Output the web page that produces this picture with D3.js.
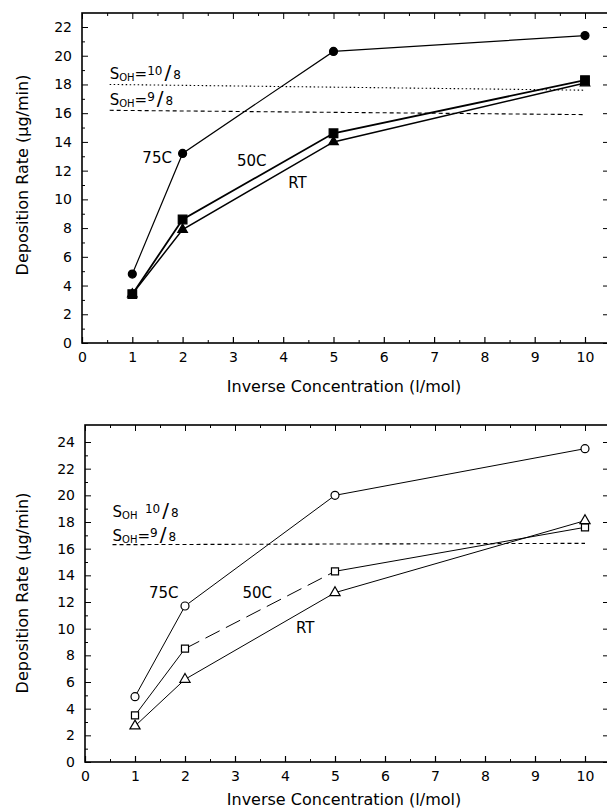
<!DOCTYPE html>
<html>
<head>
<meta charset="utf-8">
<script src="https://cdn.jsdelivr.net/npm/d3@7"></script>
<style>
  body { margin: 0; background: #fff; }
  svg { display: block; font-family: "DejaVu Sans", "Liberation Sans", sans-serif; }
</style>
</head>
<body>
<div id="chart"></div>
<script>
// values
const conc = [1, 2, 5, 10];
const xTicks = [0, 1, 2, 3, 4, 5, 6, 7, 8, 9, 10];
const topYTicks = [0, 2, 4, 6, 8, 10, 12, 14, 16, 18, 20, 22];
const botYTicks = [0, 2, 4, 6, 8, 10, 12, 14, 16, 18, 20, 22, 24];

const top75 = [4.8, 13.2, 20.3, 21.4];
const top50 = [3.4, 8.6, 14.6, 18.3];
const topRT = [3.4, 7.9, 14.0, 18.1];

const bot75 = [4.9, 11.7, 20.0, 23.5];
const bot50 = [3.5, 8.5, 14.3, 17.6];
const botRT = [2.7, 6.2, 12.7, 18.1];

const refX = [0.55, 10];
const top108 = [18.0, 17.6];
const top98 = [16.2, 15.9];
const bot98 = [16.3, 16.4];

const W = 607, H = 812;

const svg = d3.select("#chart")
  .append("svg")
  .attr("width", W)
  .attr("height", H);

function panel(cfg) {
  const x = d3.scaleLinear().domain([0, 10]).range([cfg.left, 585]);
  const y = d3.scaleLinear().domain([0, cfg.yTop]).range([cfg.bottom, cfg.yTopPx]);
  const g = svg.append("g");

  // frame
  g.append("rect")
    .attr("x", cfg.left).attr("y", cfg.top)
    .attr("width", 609 - cfg.left).attr("height", cfg.bottom - cfg.top)
    .attr("fill", "none").attr("stroke", "#000").attr("stroke-width", 1.6);

  // bottom axis, inward ticks
  const xb = g.append("g")
    .attr("transform", `translate(0,${cfg.bottom})`)
    .call(d3.axisBottom(x).tickValues(xTicks).tickSizeInner(-6).tickSizeOuter(0).tickPadding(9));
  xb.select(".domain").remove();
  xb.selectAll("text").style("font-size", "14px").style("font-family", "DejaVu Sans");
  xb.selectAll("line").attr("stroke-width", 1.2);

  const minor = d3.range(0.5, 10.5, 1);
  g.append("g")
    .attr("transform", `translate(0,${cfg.bottom})`)
    .call(d3.axisBottom(x).tickValues(minor).tickSizeInner(-3).tickSizeOuter(0).tickFormat(""))
    .select(".domain").remove();

  // top axis ticks
  const xt = g.append("g")
    .attr("transform", `translate(0,${cfg.top})`)
    .call(d3.axisTop(x).tickValues(xTicks).tickSizeInner(-6).tickSizeOuter(0).tickFormat(""));
  xt.select(".domain").remove();
  g.append("g")
    .attr("transform", `translate(0,${cfg.top})`)
    .call(d3.axisTop(x).tickValues(minor).tickSizeInner(-3).tickSizeOuter(0).tickFormat(""))
    .select(".domain").remove();

  // left axis
  const yl = g.append("g")
    .attr("transform", `translate(${cfg.left},0)`)
    .call(d3.axisLeft(y).tickValues(cfg.yTicks).tickSizeInner(-6).tickSizeOuter(0).tickPadding(10));
  yl.select(".domain").remove();
  yl.selectAll("text").style("font-size", "14px").style("font-family", "DejaVu Sans");
  const yMinor = d3.range(1, cfg.yTop, 2);
  g.append("g")
    .attr("transform", `translate(${cfg.left},0)`)
    .call(d3.axisLeft(y).tickValues(yMinor).tickSizeInner(-3).tickSizeOuter(0).tickFormat(""))
    .select(".domain").remove();

  // right side ticks (frame edge is just off the page)
  g.append("g")
    .attr("transform", `translate(609,0)`)
    .call(d3.axisRight(y).tickValues(cfg.yTicks).tickSizeInner(-6).tickSizeOuter(0).tickFormat(""))
    .select(".domain").remove();

  // axis titles
  g.append("text")
    .attr("x", 344).attr("y", cfg.xTitleY)
    .attr("text-anchor", "middle")
    .style("font-size", "16px")
    .text("Inverse Concentration (l/mol)");

  g.append("text")
    .attr("transform", `translate(28,${cfg.titleY}) rotate(-90)`)
    .attr("text-anchor", "middle")
    .style("font-size", "16px")
    .text("Deposition Rate (\u00b5g/min)");

  // reference lines
  cfg.refs.forEach(r => {
    g.append("line")
      .attr("x1", x(refX[0])).attr("y1", y(r.vals[0]))
      .attr("x2", x(refX[1])).attr("y2", y(r.vals[1]))
      .attr("stroke", "#000").attr("stroke-width", 1.1)
      .attr("stroke-dasharray", r.dash);
  });

  // soh labels
  cfg.soh.forEach(s => {
    const t = g.append("text")
      .attr("x", x(0.55)).attr("y", y(s.y))
      .style("font-size", "15px");
    t.append("tspan").text("S");
    t.append("tspan").attr("dy", 2).style("font-size", "10px").text("OH");
    t.append("tspan").attr("dy", -2).text(s.eq ? "=" : "\u2002");
    t.append("tspan").attr("dy", -4).style("font-size", "12px").text(s.num);
    t.append("tspan").attr("dx", 2).attr("dy", 4).style("font-size", "20px").text("/");
    t.append("tspan").attr("dx", 2).style("font-size", "12px").text("8");
  });

  // series
  const line = d3.line().x((d, i) => x(conc[i])).y(d => y(d));
  cfg.series.forEach(s => {
    if (s.dashSeg) {
      for (let i = 0; i < conc.length - 1; i++) {
        g.append("path")
          .datum([s.vals[i], s.vals[i + 1]])
          .attr("d", d3.line().x((d, j) => x(conc[i + j])).y(d => y(d)))
          .attr("fill", "none").attr("stroke", "#000").attr("stroke-width", s.width)
          .attr("stroke-dasharray", i === s.dashSeg ? "16,7" : null);
      }
    } else {
      g.append("path")
        .datum(s.vals)
        .attr("d", line)
        .attr("fill", "none").attr("stroke", "#000").attr("stroke-width", s.width);
    }
    g.selectAll(null)
      .data(s.vals)
      .enter()
      .append("path")
      .attr("transform", (d, i) => `translate(${x(conc[i])},${y(d)})`)
      .attr("d", d3.symbol().type(s.symbol).size(s.size))
      .attr("fill", cfg.filled ? "#000" : "#fff")
      .attr("stroke", "#000")
      .attr("stroke-width", 1.2);
  });

  // curve labels
  cfg.labels.forEach(l => {
    g.append("text")
      .attr("x", x(l.x)).attr("y", y(l.y))
      .style("font-size", "15px")
      .text(l.text);
  });
}

panel({
  left: 82, top: 13, bottom: 343, yTop: 22, yTopPx: 27, yTicks: topYTicks,
  titleY: 175, xTitleY: 392,
  filled: true,
  refs: [{ vals: top108, dash: "1.5,2.5" }, { vals: top98, dash: "4,3" }],
  soh: [{ y: 18.4, num: "10", eq: true }, { y: 16.6, num: "9", eq: true }],
  series: [
    { vals: top75, symbol: d3.symbolCircle, size: 50, width: 1.2 },
    { vals: top50, symbol: d3.symbolSquare, size: 75, width: 1.8 },
    { vals: topRT, symbol: d3.symbolTriangle, size: 40, width: 1.5 }
  ],
  labels: [
    { x: 1.2, y: 12.5, text: "75C" },
    { x: 3.08, y: 12.3, text: "50C" },
    { x: 4.1, y: 10.8, text: "RT" }
  ]
});

panel({
  left: 85, top: 425, bottom: 762, yTop: 24, yTopPx: 442, yTicks: botYTicks,
  titleY: 593, xTitleY: 805,
  filled: false,
  refs: [{ vals: bot98, dash: "4,3" }],
  soh: [{ y: 18.4, num: "10", eq: false }, { y: 16.6, num: "9", eq: true }],
  series: [
    { vals: bot75, symbol: d3.symbolCircle, size: 50, width: 1 },
    { vals: bot50, symbol: d3.symbolSquare, size: 50, width: 1, dashSeg: 1 },
    { vals: botRT, symbol: d3.symbolTriangle, size: 45, width: 1 }
  ],
  labels: [
    { x: 1.28, y: 12.3, text: "75C" },
    { x: 3.15, y: 12.3, text: "50C" },
    { x: 4.22, y: 9.7, text: "RT" }
  ]
});
</script>
</body>
</html>
